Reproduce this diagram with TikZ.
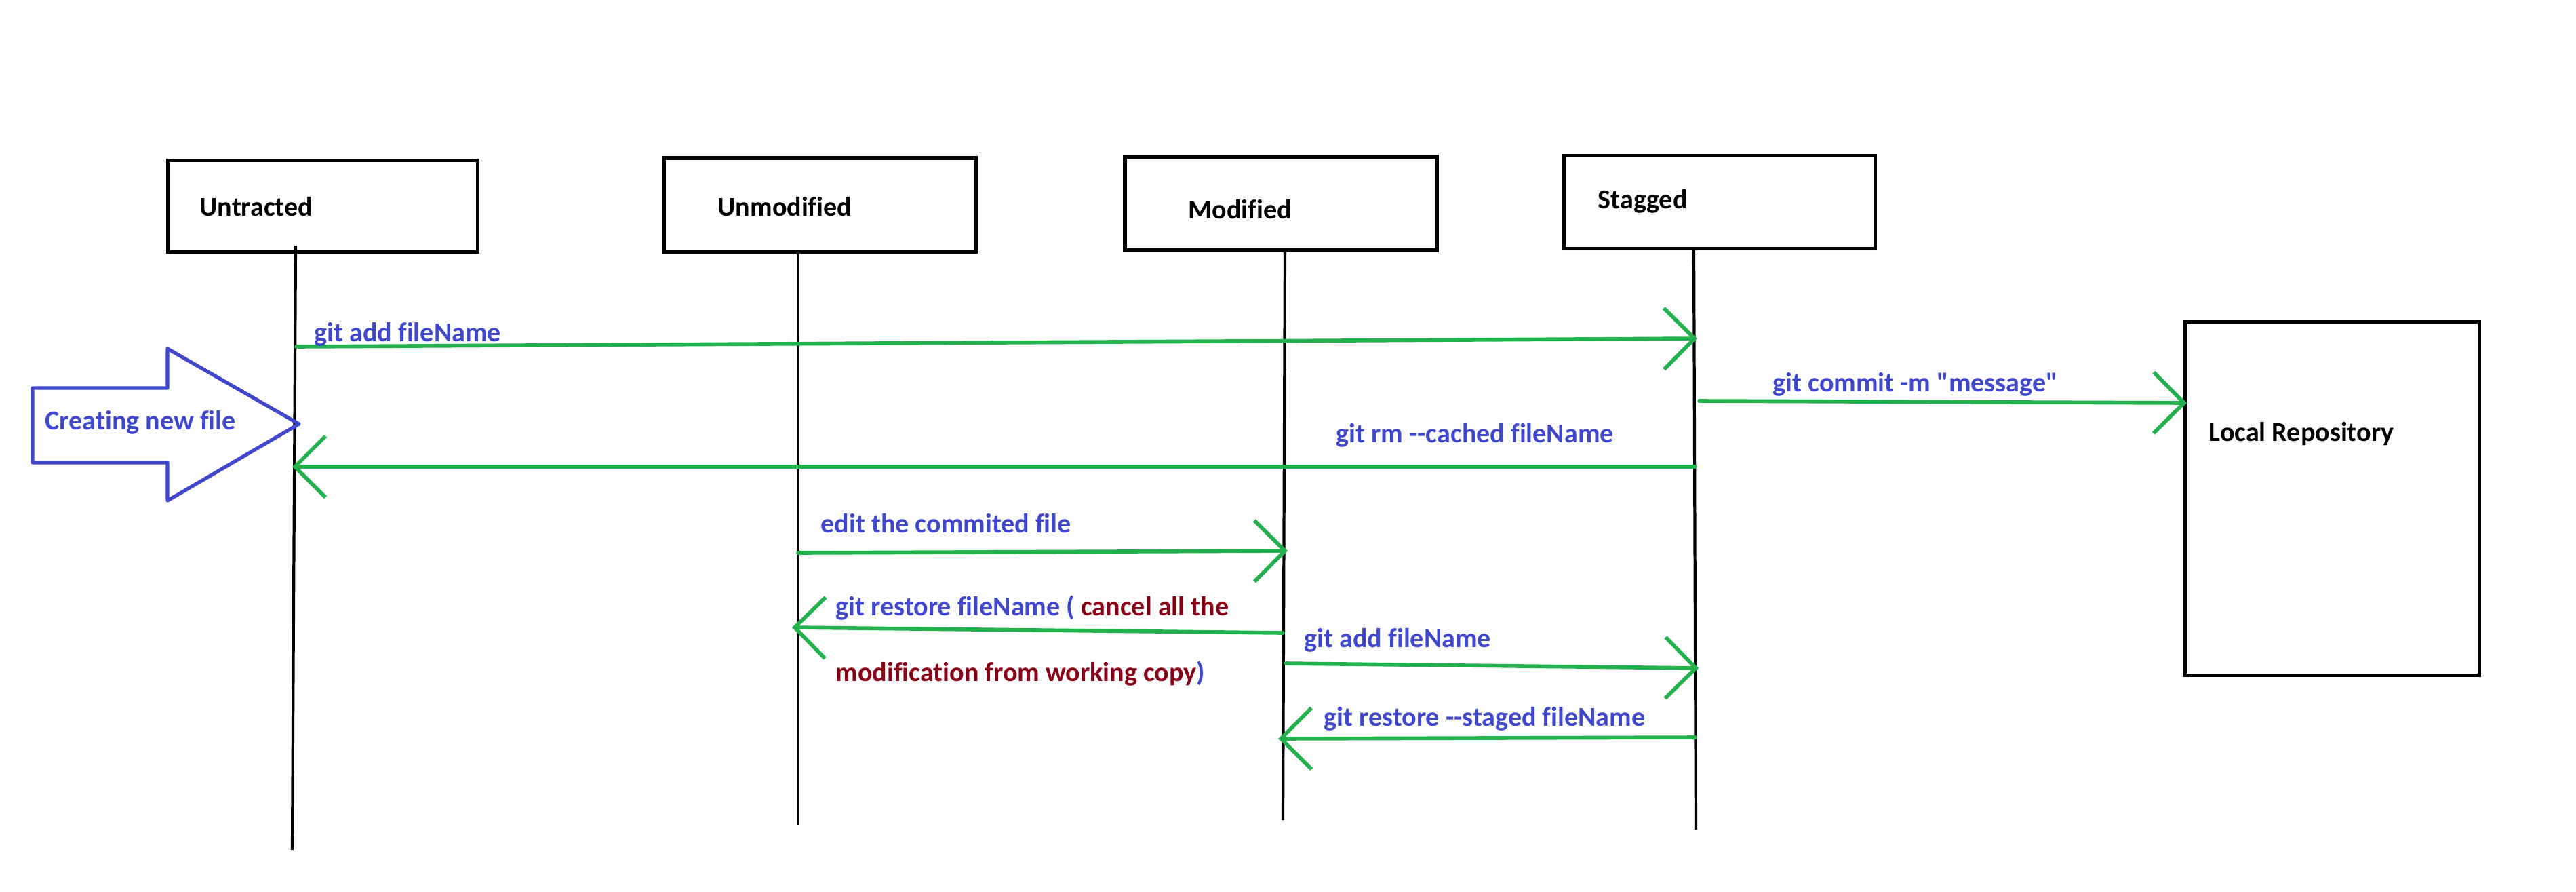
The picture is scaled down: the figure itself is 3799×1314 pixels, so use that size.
\documentclass[tikz,border=0pt]{standalone}
\usepackage{fontspec}
\setmainfont{Carlito}[Ligatures={TeXOff,NoCommon}]
\usetikzlibrary{arrows.meta}
\definecolor{pblue}{RGB}{63,72,204}
\definecolor{pgreen}{RGB}{34,177,76}
\definecolor{pred}{RGB}{136,0,21}
\begin{document}
\begin{tikzpicture}[x=0.01cm,y=-0.01cm,
  statebox/.style 2 args={draw=black, line width=1.5pt, inner sep=0pt, minimum width=#1, minimum height=#2},
  lbl/.style={anchor=west, inner sep=0pt, font=\bfseries\fontsize{11.4pt}{13.7pt}\selectfont, text=pblue},
  title/.style={lbl, text=black},
  life/.style={draw=black, line width=1.2pt},
  msg/.style={draw=pgreen, line width=1.6pt, line cap=round, -{Straight Barb[length=0.45cm,width=0.9cm]}},
  bigarrow/.style={draw=pblue, line width=1.5pt, line join=round}
]
\fill[white] (0,0) rectangle (3799,1314);
\useasboundingbox (0,0) rectangle (3799,1314);

% state boxes
\node[statebox={4.57cm}{1.35cm}] (untracted) at (476,304) {};
\node[statebox={4.60cm}{1.38cm}] (unmodified) at (1209,302) {};
\node[statebox={4.60cm}{1.38cm}] (modified) at (1889,300) {};
\node[statebox={4.59cm}{1.37cm}] (stagged) at (2536,298) {};
\node[statebox={4.34cm}{5.21cm}] (repo) at (3439,735) {};

\node[title] (tUntracted) at (294,305) {Untracted};
\node[title] (tUnmodified) at (1058,305) {Unmodified};
\node[title] (tModified) at (1752,309) {Modified};
\node[title] (tStagged) at (2356,297) {Stagged};
\node[title] (tRepo) at (3257,640) {Local Repository};

% lifelines
\coordinate (l1t) at (436,362);  \coordinate (l1b) at (431,1253);
\coordinate (l2t) at (1177,372); \coordinate (l2b) at (1177,1216);
\coordinate (l3t) at (1895,369); \coordinate (l3b) at (1892,1209);
\coordinate (l4t) at (2498,367); \coordinate (l4b) at (2501,1223);
\draw[life] (l1t) -- (l1b);
\draw[life] (l2t) -- (l2b);
\draw[life] (l3t) -- (l3b);
\draw[life] (l4t) -- (l4b);

% creating new file arrow
\draw[bigarrow] (48,572) -- (247,572) -- (247,514) -- (441,625) -- (247,738) -- (247,682) -- (48,682) -- cycle;
\node[lbl] (tCreate) at (66,623) {Creating new file};

% message endpoints
\coordinate (a1s) at (437,511);  \coordinate (a1e) at (2503,499);
\coordinate (a2s) at (2506,591); \coordinate (a2e) at (3225,594);
\coordinate (a3s) at (2500,688); \coordinate (a3e) at (431,688);
\coordinate (a4s) at (1177,815); \coordinate (a4e) at (1899,812);
\coordinate (a5s) at (1892,933); \coordinate (a5e) at (1168,925);
\coordinate (a6s) at (1896,978); \coordinate (a6e) at (2505,985);
\coordinate (a7s) at (2500,1087); \coordinate (a7e) at (1885,1089);

\draw[msg] (a1s) -- (a1e);
\draw[msg] (a2s) -- (a2e);
\draw[msg] (a3s) -- (a3e);
\draw[msg] (a4s) -- (a4e);
\draw[msg] (a5s) -- (a5e);
\draw[msg] (a6s) -- (a6e);
\draw[msg] (a7s) -- (a7e);

% labels
\node[lbl] (m1) at (463,493) {git add fileName};
\node[lbl] (m2) at (2614,567) {git commit -m "message"};
\node[lbl] (m3) at (1970,642) {git rm --cached fileName};
\node[lbl] (m4) at (1210,772) {edit the commited file};
\node[lbl] (m5a) at (1232,896) {git restore fileName ( \textcolor{pred}{cancel all the}};
\node[lbl] (m5b) at (1232,993) {\textcolor{pred}{modification from working copy})};
\node[lbl] (m6) at (1923,944) {git add fileName};
\node[lbl] (m7) at (1952,1060) {git restore --staged fileName};
\end{tikzpicture}
\end{document}
